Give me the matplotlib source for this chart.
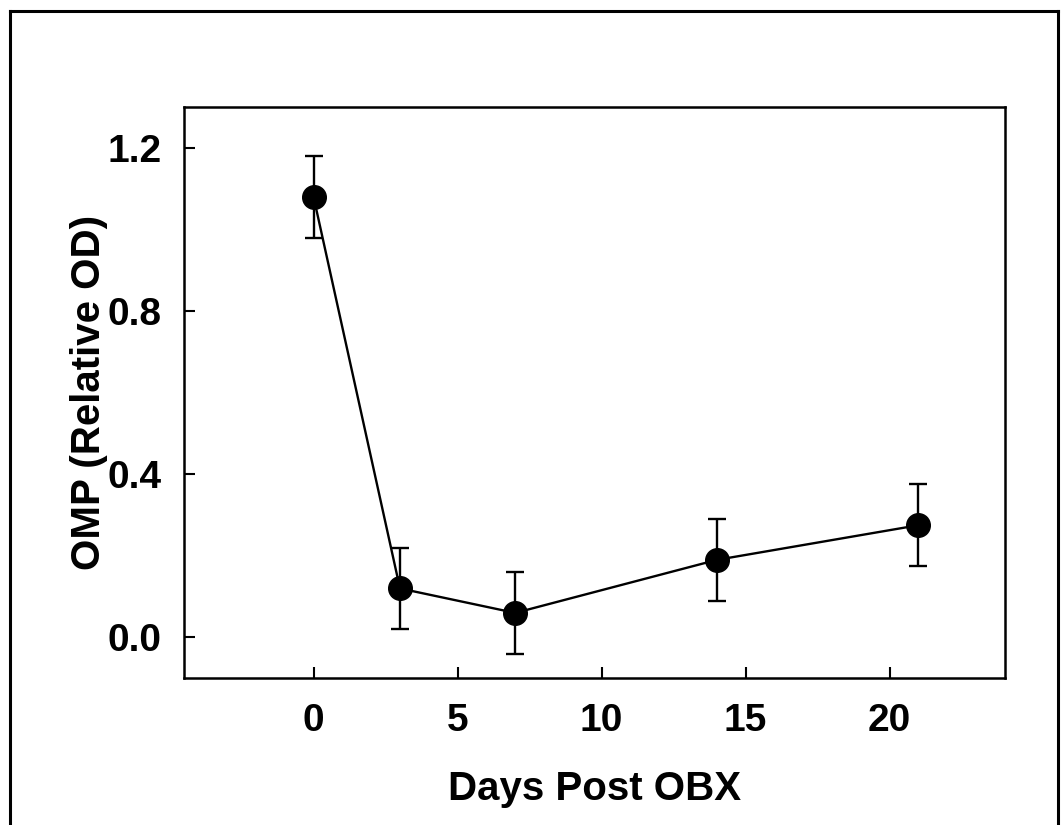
import matplotlib.pyplot as plt
from matplotlib.lines import Line2D

# data
days = [0, 3, 7, 14, 21]
omp = [1.08, 0.12, 0.06, 0.19, 0.275]
omp_err = [0.10, 0.10, 0.10, 0.10, 0.10]

plt.rcParams['font.family'] = ['Liberation Sans', 'DejaVu Sans']
plt.rcParams['font.weight'] = 'bold'

fig = plt.figure(figsize=(10.61, 8.25), dpi=100)
ax = fig.add_axes([0.1734, 0.178, 0.7736, 0.692])

ax.errorbar(days, omp, yerr=omp_err, color='black', linewidth=1.7,
            marker='o', markersize=17, elinewidth=1.7, capsize=6.5, capthick=1.7)

ax.set_xlim(-4.5, 24)
ax.set_ylim(-0.1, 1.3)
ax.set_xticks([0, 5, 10, 15, 20])
ax.set_yticks([0.0, 0.4, 0.8, 1.2])
ax.set_yticklabels(['0.0', '0.4', '0.8', '1.2'])
ax.tick_params(direction='in', length=8, width=1.5, labelsize=28, top=False, right=False)
ax.tick_params(axis='y', pad=16)
ax.tick_params(axis='x', pad=18)
for s in ax.spines.values():
    s.set_linewidth(1.8)

ax.set_xlabel('Days Post OBX', fontsize=29, fontweight='bold', labelpad=22)
ax.set_ylabel('OMP (Relative OD)', fontsize=29, fontweight='bold', labelpad=0)

# outer frame (bottom edge cut off in the original)
for xs, ys in [([0.0094, 0.0094], [0.0, 0.9867]),
               ([0.0094, 0.997], [0.9867, 0.9867]),
               ([0.997, 0.997], [0.0, 0.9867])]:
    fig.add_artist(Line2D(xs, ys, color='black', linewidth=2.2, transform=fig.transFigure))

plt.savefig('out.png', dpi=100)
